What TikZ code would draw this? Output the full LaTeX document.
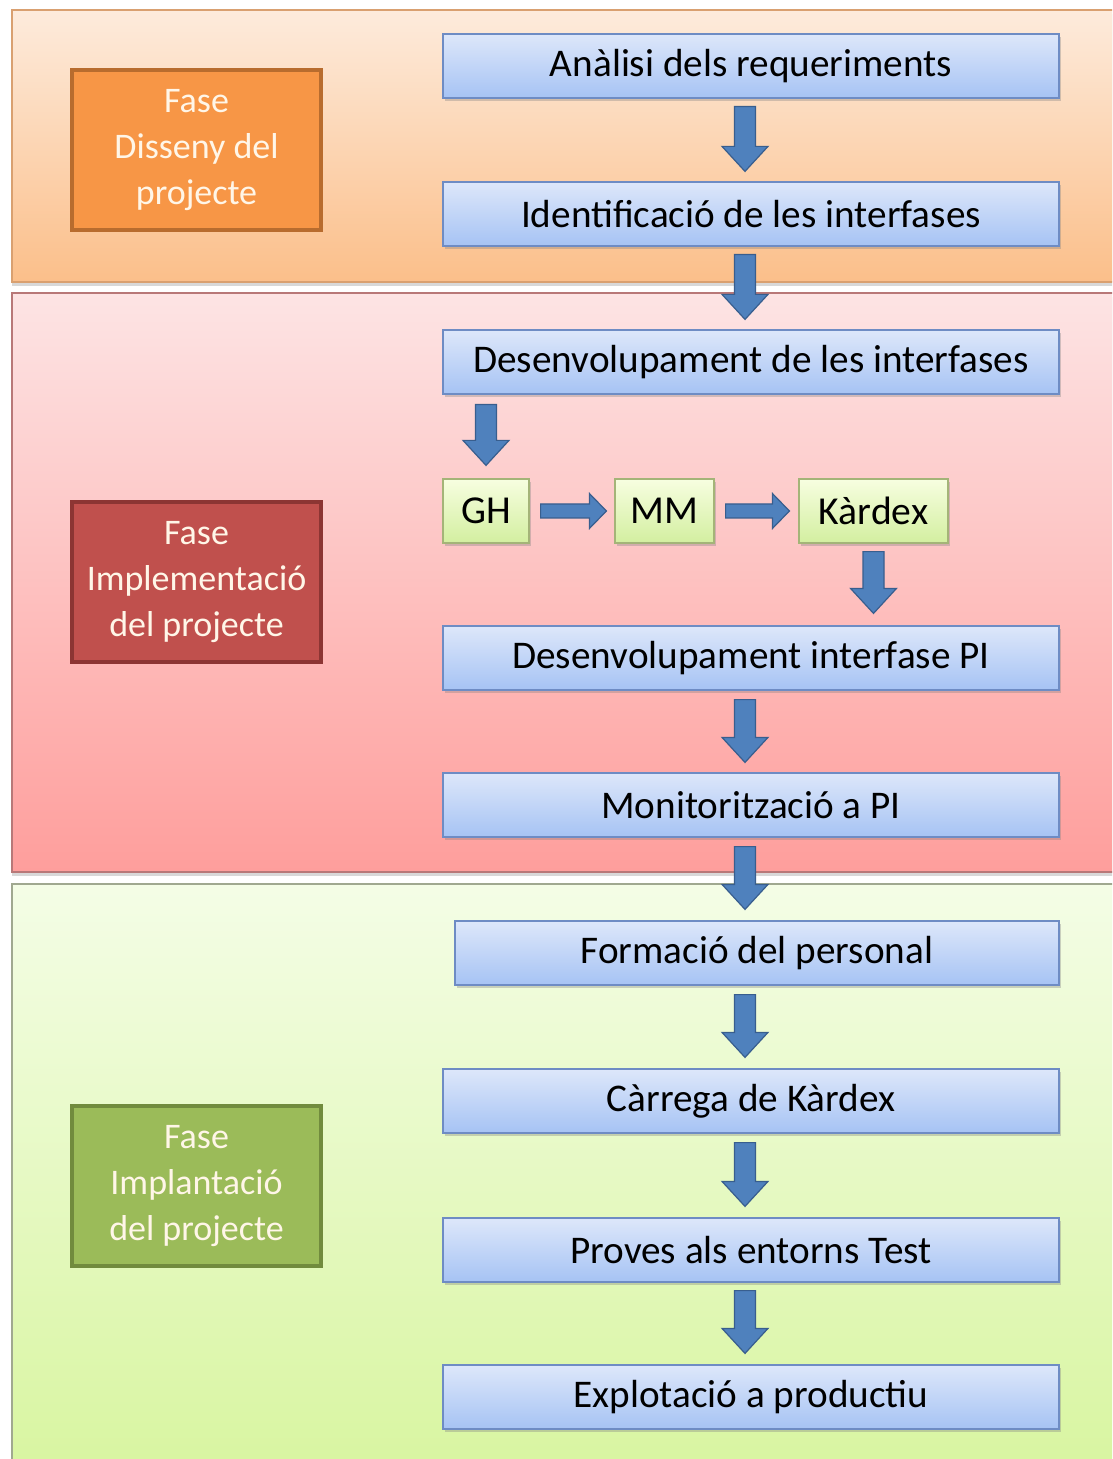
\documentclass[tikz,border=0pt]{standalone}
\usepackage{fontspec}
\setmainfont{Carlito}
\usetikzlibrary{calc,shadows}

\definecolor{orTop}{HTML}{FDEBDC}
\definecolor{orBot}{HTML}{FBBF8A}
\definecolor{orLine}{HTML}{D9A070}
\definecolor{rdTop}{HTML}{FDE4E4}
\definecolor{rdBot}{HTML}{FE9E9C}
\definecolor{rdLine}{HTML}{B87878}
\definecolor{gnTop}{HTML}{F4FDE6}
\definecolor{gnBot}{HTML}{D8F5A0}
\definecolor{gnLine}{HTML}{A0A890}
\definecolor{phOr}{HTML}{F79646}
\definecolor{phOrLine}{HTML}{B86C2E}
\definecolor{phRd}{HTML}{C0504D}
\definecolor{phRdLine}{HTML}{8C3533}
\definecolor{phGn}{HTML}{9BBB59}
\definecolor{phGnLine}{HTML}{718B3D}
\definecolor{phText}{HTML}{FFF6E8}
\definecolor{bxTop}{HTML}{DDE7FA}
\definecolor{bxBot}{HTML}{A6C3F4}
\definecolor{bxLine}{HTML}{6E8CC4}
\definecolor{sbTop}{HTML}{F7FEE0}
\definecolor{sbBot}{HTML}{D3EFA0}
\definecolor{sbLine}{HTML}{A4B478}
\definecolor{arFill}{HTML}{4F81BD}
\definecolor{arLine}{HTML}{385E8E}

\begin{document}
\begin{tikzpicture}[x=0.5pt,y=-0.5pt,
  panel/.style={line width=0.7pt},
  phase/.style={line width=1.6pt, minimum width=124.5pt, minimum height=80pt,
    inner sep=0pt, text=phText, align=center,
    font=\fontsize{18}{23}\selectfont},
  stepbox/.style={draw=bxLine, line width=0.6pt, top color=bxTop, bottom color=bxBot,
    minimum width=308pt, minimum height=32pt, inner sep=0pt,
    font=\fontsize{19.6}{22}\selectfont,
    drop shadow={opacity=0.35, shadow xshift=1pt, shadow yshift=-1.5pt}},
  subbox/.style={draw=sbLine, line width=0.6pt, top color=sbTop, bottom color=sbBot,
    minimum height=32pt, inner sep=0pt,
    font=\fontsize{19.8}{22}\selectfont,
    drop shadow={opacity=0.35, shadow xshift=1pt, shadow yshift=-1.5pt}},
  downflow/.style={draw=arLine, fill=arFill, line width=0.6pt, line join=miter,
    to path={let \p1=(\tikztostart), \p2=(\tikztotarget) in
      (\x1-5.25pt,\y1) -- (\x1-5.25pt,\y2+12.5pt) -- (\x1-11.5pt,\y2+12.5pt)
      -- (\x1,\y2) -- (\x1+11.5pt,\y2+12.5pt) -- (\x1+5.25pt,\y2+12.5pt)
      -- (\x1+5.25pt,\y1) -- cycle}},
  rightflow/.style={draw=arLine, fill=arFill, line width=0.6pt, line join=miter,
    to path={let \p1=(\tikztostart), \p2=(\tikztotarget) in
      (\x1,\y1-3.5pt) -- (\x2-8.5pt,\y1-3.5pt) -- (\x2-8.5pt,\y1-8.75pt)
      -- (\x2,\y1) -- (\x2-8.5pt,\y1+8.75pt) -- (\x2-8.5pt,\y1+3.5pt)
      -- (\x1,\y1+3.5pt) -- cycle}}
]
\clip (0,0) rectangle (1112,1459);
\fill[white] (0,0) rectangle (1112,1459);

% phase panels
\path[panel, draw=orLine, top color=orTop, bottom color=orBot,
  drop shadow={opacity=0.3, shadow xshift=0pt, shadow yshift=-2pt}]
  (12,10) rectangle (1130,282);
\path[panel, draw=rdLine, top color=rdTop, bottom color=rdBot,
  drop shadow={opacity=0.3, shadow xshift=0pt, shadow yshift=-2pt}]
  (12,293) rectangle (1130,872);
\path[panel, draw=gnLine, top color=gnTop, bottom color=gnBot]
  (12,884) rectangle (1130,1475);

% phase labels
\node[phase, draw=phOrLine, fill=phOr] (ph1) at (196.5,150) {Fase\\Disseny del\\projecte};
\node[phase, draw=phRdLine, fill=phRd] (ph2) at (196.5,582) {Fase\\Implementació\\del projecte};
\node[phase, draw=phGnLine, fill=phGn] (ph3) at (196.5,1186) {Fase\\Implantació\\del projecte};

% steps
\node[stepbox] (s1) at (751,66) {Anàlisi dels requeriments};
\node[stepbox] (s2) at (751,214) {Identificació de les interfases};
\node[stepbox] (s3) at (751,362) {Desenvolupament de les interfases};
\node[subbox, minimum width=43pt] (gh) at (486,511) {GH};
\node[subbox, minimum width=49.5pt] (mm) at (664.5,511) {MM};
\node[subbox, minimum width=74.5pt] (kx) at (873.5,511) {Kàrdex};
\node[stepbox] (s4) at (751,658) {Desenvolupament interfase PI};
\node[stepbox] (s5) at (751,805) {Monitorització a PI};
\node[stepbox, minimum width=302pt] (s6) at (757,953) {Formació del personal};
\node[stepbox] (s7) at (751,1101) {Càrrega de Kàrdex};
\node[stepbox] (s8) at (751,1250) {Proves als entorns Test};
\node[stepbox] (s9) at (751,1397) {Explotació a productiu};

% flow arrows
\coordinate (c1) at (745,105);
\path[downflow] ([yshift=-4pt]s1.south -| c1) to ([yshift=5pt]s2.north -| c1);
\path[downflow] ([yshift=-4pt]s2.south -| c1) to ([yshift=5pt]s3.north -| c1);
\path[downflow] ([yshift=-5pt]s3.south -| gh) to ([yshift=6.5pt]gh.north);
\path[rightflow] ([xshift=5.5pt]gh.east) to ([xshift=-4pt]mm.west);
\path[rightflow] ([xshift=5.5pt]mm.east) to ([xshift=-4.5pt]kx.west);
\path[downflow] ([yshift=-4pt]kx.south) to ([yshift=6pt]s4.north -| kx);
\path[downflow] ([yshift=-4.5pt]s4.south -| c1) to ([yshift=5pt]s5.north -| c1);
\path[downflow] ([yshift=-4.5pt]s5.south -| c1) to ([yshift=5.5pt]s6.north -| c1);
\path[downflow] ([yshift=-4.5pt]s6.south -| c1) to ([yshift=5.5pt]s7.north -| c1);
\path[downflow] ([yshift=-4.5pt]s7.south -| c1) to ([yshift=5.5pt]s8.north -| c1);
\path[downflow] ([yshift=-4pt]s8.south -| c1) to ([yshift=5.5pt]s9.north -| c1);
\end{tikzpicture}
\end{document}
